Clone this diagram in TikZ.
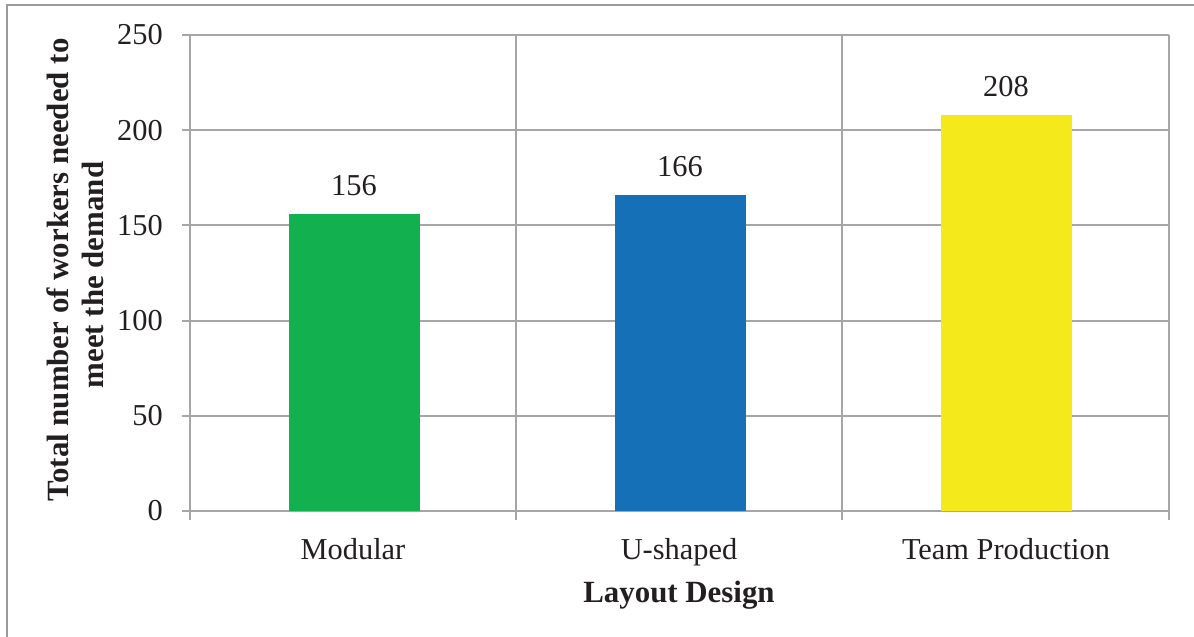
\documentclass[tikz,border=0pt]{standalone}
\usepackage{fontspec}
\setmainfont{Liberation Serif}
\definecolor{gridgray}{HTML}{A6A6A6}
\definecolor{framegray}{HTML}{9A9A9A}
\definecolor{barGreen}{HTML}{13B050}
\definecolor{barBlue}{HTML}{1670B8}
\definecolor{barYellow}{HTML}{F4E91A}
\definecolor{labelInk}{HTML}{231F20}
\begin{document}
\begin{tikzpicture}[x=1bp,y=-1bp,
  gridline/.style={draw=gridgray,line width=2bp},
  bar/.style={draw=none},
  ticklabel/.style={font=\fontsize{30.5}{36}\selectfont,text=labelInk,inner sep=0pt},
  catlabel/.style={font=\fontsize{30.5}{36}\selectfont,text=labelInk,inner sep=0pt,anchor=base},
  vallabel/.style={font=\fontsize{30.5}{36}\selectfont,text=labelInk,inner sep=0pt,anchor=base},
  axistitle/.style={font=\fontsize{31}{36}\selectfont\bfseries,text=labelInk,inner sep=0pt,anchor=base}]
\useasboundingbox (0,0) rectangle (1194,637);
% outer chart frame (top and left edges)
\draw[draw=framegray,line width=2.2bp] (1194,5) -- (7,5) -- (7,637);
% horizontal gridlines, 0 to 250 in steps of 50 (1.904 units per worker)
\foreach \v in {0,50,...,250}{
  \pgfmathsetmacro{\yy}{511-\v*1.904}
  \draw[gridline] (182,\yy) -- (1169,\yy);
  \node[ticklabel,anchor=east] (tick\v) at (163,\yy) {\v};
}
% vertical gridlines at category boundaries, with ticks below the axis
\foreach \xx in {190,516,842,1169}{
  \draw[gridline] (\xx,35) -- (\xx,520);
}
% bars with their value labels
\foreach \name/\val/\cx/\col in {mod/156/354/barGreen,ush/166/680/barBlue,team/208/1006/barYellow}{
  \pgfmathsetmacro{\ytop}{511-\val*1.904}
  \fill[bar,fill=\col] (\cx-65.5,\ytop) rectangle (\cx+65.5,511);
  \node[vallabel] (val\name) at (\cx,\ytop-18) {\val};
}
% category labels
\node[catlabel] (catmod) at (353,559) {Modular};
\node[catlabel] (catush) at (679,559) {U-shaped};
\node[catlabel] (catteam) at (1006,559) {Team Production};
% axis titles
\node[axistitle] (xtitle) at (679,602) {Layout Design};
\node[axistitle,rotate=90] (ytitleA) at (68,270) {Total number of workers needed to};
\node[axistitle,rotate=90] (ytitleB) at (103,275) {meet the demand};
\end{tikzpicture}
\end{document}
